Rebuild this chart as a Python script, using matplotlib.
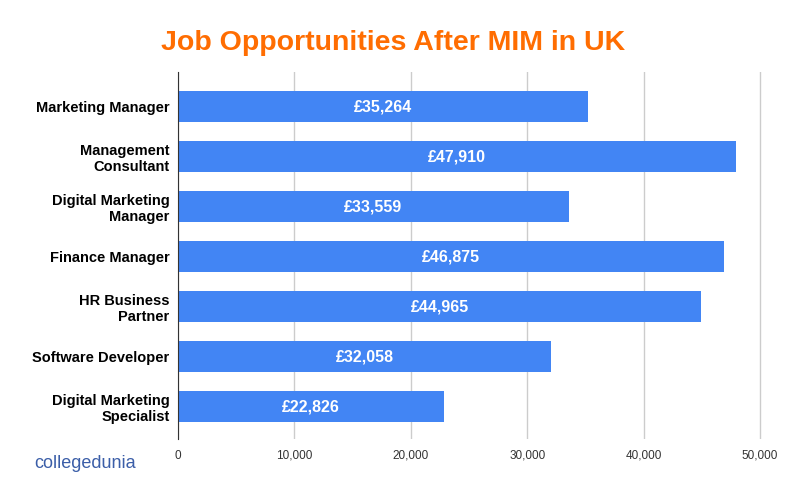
import matplotlib.pyplot as plt

jobs = ["Marketing Manager", "Management\nConsultant", "Digital Marketing\nManager",
        "Finance Manager", "HR Business\nPartner", "Software Developer",
        "Digital Marketing\nSpecialist"]
salaries = [35264, 47910, 33559, 46875, 44965, 32058, 22826]
xticks = [0, 10000, 20000, 30000, 40000, 50000]

plt.rcParams['font.family'] = ['Liberation Sans', 'DejaVu Sans']

fig = plt.figure(figsize=(7.85, 4.85), dpi=100)
ax = fig.add_axes([178 / 785, 1 - 440 / 485, (762 - 178) / 785, (440 - 73) / 485])

ypos = list(range(len(jobs)))
ax.barh(ypos, salaries, height=0.62, color="#4285f4", zorder=3)

for y, v in zip(ypos, salaries):
    ax.text(v / 2, y, "£{:,}".format(v), color="white", fontsize=11.5,
            fontweight="bold", ha="center", va="center", zorder=4)

ax.set_ylim(6.66, -0.68)
ax.set_xlim(0, 50170)
ax.set_yticks(ypos)
ax.set_yticklabels(jobs, fontsize=10.5, fontweight="bold", linespacing=1.1)
ax.set_xticks(xticks)
ax.set_xticklabels(["{:,}".format(t) for t in xticks], fontsize=8.5, color="#333333")
ax.tick_params(axis="y", length=0, pad=6)
ax.tick_params(axis="x", length=0, pad=7)
ax.grid(axis="x", color="#cccccc", linewidth=1, zorder=0)
for s in ["top", "right", "bottom"]:
    ax.spines[s].set_visible(False)
ax.spines["left"].set_color("#333333")
ax.spines["left"].set_zorder(5)

fig.text(393 / 785, 1 - 43 / 485, "Job Opportunities After MIM in UK", color="#ff6d01",
         fontsize=20.5, fontweight="bold", ha="center", va="center")

fig.text(34 / 785, 1 - 463 / 485, "collegedunia", color="#3b5ea8", fontsize=13,
         ha="left", va="center")

fig.savefig("out.png", dpi=100)
